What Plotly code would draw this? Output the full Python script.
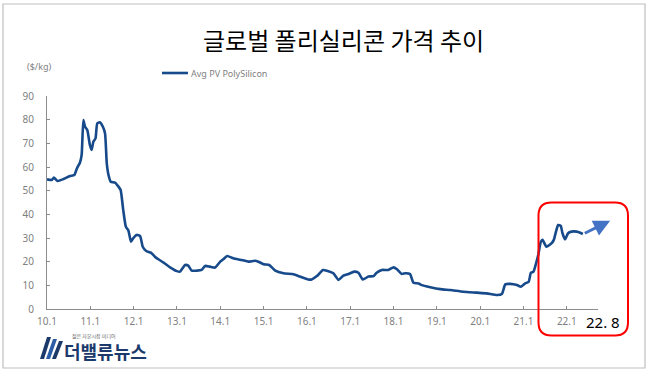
import plotly.graph_objects as go

# ---- data (decimal year, $/kg) ----
dates = [2010.00, 2010.11, 2010.16, 2010.24, 2010.38, 2010.53, 2010.63, 2010.69, 2010.76, 2010.80,
         2010.84, 2010.88, 2010.93, 2010.99, 2011.03, 2011.07, 2011.12, 2011.16, 2011.22, 2011.29,
         2011.34, 2011.38, 2011.42, 2011.47, 2011.57, 2011.65, 2011.70, 2011.76, 2011.82, 2011.88,
         2011.94, 2011.99, 2012.07, 2012.15, 2012.21, 2012.29, 2012.40, 2012.49, 2012.57, 2012.70,
         2012.85, 2013.00, 2013.07, 2013.19, 2013.26, 2013.34, 2013.46, 2013.57, 2013.65, 2013.76,
         2013.88, 2014.00, 2014.07, 2014.16, 2014.30, 2014.50, 2014.65, 2014.80, 2014.88, 2015.00,
         2015.13, 2015.27, 2015.46, 2015.69, 2015.84, 2016.03, 2016.11, 2016.23, 2016.37, 2016.46,
         2016.61, 2016.73, 2016.84, 2016.96, 2017.09, 2017.19, 2017.29, 2017.42, 2017.54, 2017.61,
         2017.73, 2017.88, 2018.00, 2018.08, 2018.19, 2018.27, 2018.38, 2018.46, 2018.58, 2018.65,
         2018.85, 2019.08, 2019.31, 2019.61, 2019.92, 2020.15, 2020.39, 2020.50, 2020.58, 2020.69,
         2020.85, 2020.94, 2021.04, 2021.12, 2021.17, 2021.23, 2021.29, 2021.34, 2021.40, 2021.44,
         2021.53, 2021.65, 2021.70, 2021.75, 2021.80, 2021.86, 2021.90, 2021.96, 2022.03, 2022.11,
         2022.23, 2022.31, 2022.37]
prices = [54.8, 54.5, 55.5, 54.1, 54.9, 56.2, 56.6, 59.4, 61.8, 65.1,
          79.8, 77.0, 75.6, 69.3, 67.2, 70.7, 72.1, 78.4, 78.9, 77.0,
          74.2, 61.5, 56.6, 53.8, 53.4, 51.7, 50.3, 41.8, 34.8, 33.1,
          28.4, 29.9, 31.3, 30.8, 26.3, 24.5, 23.8, 22.1, 21.0, 19.5,
          17.5, 16.0, 15.8, 18.6, 18.3, 16.2, 16.2, 16.5, 18.2, 17.9,
          17.5, 20.0, 21.0, 22.4, 21.4, 20.7, 20.0, 20.4, 20.0, 18.9,
          18.6, 16.2, 15.1, 14.7, 13.7, 12.5, 12.5, 13.9, 16.5, 16.2,
          15.1, 12.3, 14.1, 14.8, 15.8, 15.3, 12.5, 13.7, 13.9, 15.3,
          16.5, 16.5, 17.6, 16.8, 14.8, 15.1, 14.8, 11.1, 10.8, 10.1,
          9.2, 8.4, 8.0, 7.3, 6.9, 6.6, 5.9, 6.3, 10.4, 10.6,
          10.1, 9.4, 10.8, 11.5, 15.3, 15.8, 19.3, 22.8, 28.4, 29.2,
          26.3, 27.8, 29.2, 32.7, 35.5, 35.1, 32.0, 29.4, 32.0, 32.7,
          32.7, 32.2, 31.7]

tick_vals = list(range(2010, 2023))
tick_text = ["10.1", "11.1", "12.1", "13.1", "14.1", "15.1", "16.1", "17.1",
             "18.1", "19.1", "20.1", "21.1", "22.1"]
y_ticks = [0, 10, 20, 30, 40, 50, 60, 70, 80, 90]
series_name = "Avg PV PolySilicon"
arrow_from = (2022.38, 31.7)
arrow_to = (2023.0, 37.3)

# ---- layout geometry (pixels) ----
W, H = 650, 376
L, R, T, B = 47, 598, 96, 309


def px(x):
    return (x - L) / (R - L)


def py(y):
    return (B - y) / (B - T)


fig = go.Figure()
fig.add_trace(go.Scatter(
    x=dates, y=prices, mode="lines", name=series_name,
    line=dict(color="#174a8b", width=2.6, shape="spline", smoothing=0.5),
    showlegend=False, hoverinfo="x+y"))

shapes = []
# outer border
shapes.append(dict(type="rect", xref="paper", yref="paper",
                   x0=px(3), x1=px(645), y0=py(4), y1=py(368),
                   line=dict(color="#bfbfbf", width=1.2), layer="below"))
# legend line
shapes.append(dict(type="line", xref="paper", yref="paper",
                   x0=px(162), x1=px(188), y0=py(73), y1=py(73),
                   line=dict(color="#174a8b", width=2.6)))


# red rounded rectangle
def rounded_path(x0, y0, x1, y1, r):
    pts = [
        ("M", [(x0 + r, y0)]),
        ("L", [(x1 - r, y0)]),
        ("Q", [(x1, y0), (x1, y0 + r)]),
        ("L", [(x1, y1 - r)]),
        ("Q", [(x1, y1), (x1 - r, y1)]),
        ("L", [(x0 + r, y1)]),
        ("Q", [(x0, y1), (x0, y1 - r)]),
        ("L", [(x0, y0 + r)]),
        ("Q", [(x0, y0), (x0 + r, y0)]),
    ]
    s = ""
    for cmd, ps in pts:
        s += cmd + " " + " ".join(f"{px(a):.5f},{py(b):.5f}" for a, b in ps) + " "
    return s + "Z"


shapes.append(dict(type="path", xref="paper", yref="paper",
                   path=rounded_path(538.5, 202.5, 628, 335.5, 13),
                   line=dict(color="#ff0000", width=2)))

# logo emblem stripes
for i, (xa, xb) in enumerate([(40, 47), (46, 53), (52, 59)]):
    shapes.append(dict(type="path", xref="paper", yref="paper",
                       path=(f"M {px(xa):.5f},{py(359):.5f} L {px(xa+4):.5f},{py(359):.5f} "
                             f"L {px(xb+4):.5f},{py(337 + i*2):.5f} L {px(xb):.5f},{py(337 + i*2):.5f} Z"),
                       fillcolor=["#1b3a6b", "#2a5ea8", "#1b3a6b"][i], line=dict(width=0)))

C = dict(xanchor="center", yanchor="middle", showarrow=False)
annotations = [
    dict(text="글로벌 폴리실리콘 가격 추이", xref="paper", yref="paper",
         x=px(343), y=py(40), **C,
         font=dict(family="Noto Sans CJK KR", size=24, color="#000000")),
    dict(text="($/kg)", xref="paper", yref="paper", x=px(39), y=py(66), **C,
         font=dict(family="Noto Sans", size=9, color="#7f7f7f")),
    dict(text=series_name, xref="paper", yref="paper", x=px(189), y=py(73),
         xanchor="left", yanchor="middle", showarrow=False,
         font=dict(family="Noto Sans", size=9, color="#7f7f7f")),
    dict(text="22. 8", xref="paper", yref="paper", x=px(603), y=py(322), **C,
         font=dict(family="Noto Sans", size=15, color="#000000")),
    dict(text="", x=arrow_to[0], y=arrow_to[1], ax=arrow_from[0], ay=arrow_from[1],
         xref="x", yref="y", axref="x", ayref="y", showarrow=True,
         arrowhead=2, arrowsize=1.1, arrowwidth=3, arrowcolor="#4472c4", standoff=0),
    dict(text="<b>더밸류뉴스</b>", xref="paper", yref="paper", x=px(62), y=py(351),
         xanchor="left", yanchor="middle", showarrow=False,
         font=dict(family="Noto Sans CJK KR", size=18, color="#1b3a6b")),
    dict(text="젊은 자본시장 미디어", xref="paper", yref="paper", x=px(70), y=py(335.5),
         xanchor="left", yanchor="middle", showarrow=False,
         font=dict(family="Noto Sans CJK KR", size=5, color="#666666")),
]

fig.update_layout(
    width=W, height=H,
    margin=dict(l=L, r=W - R, t=T, b=H - B, pad=0),
    paper_bgcolor="#ffffff", plot_bgcolor="#ffffff",
    shapes=shapes, annotations=annotations,
    xaxis=dict(range=[2010, 2022.72], tickvals=tick_vals, ticktext=tick_text,
               showgrid=False, zeroline=False, showline=True, linecolor="#8c8c8c",
               linewidth=1, ticks="inside", ticklen=3, tickcolor="#8c8c8c",
               tickfont=dict(family="Noto Sans", size=10, color="#7f7f7f"),
               ticklabelstandoff=3, fixedrange=True),
    yaxis=dict(range=[0, 90], tickvals=y_ticks, showgrid=False, zeroline=False,
               showline=True, linecolor="#8c8c8c", linewidth=1, ticks="inside",
               ticklen=3, tickcolor="#8c8c8c",
               tickfont=dict(family="Noto Sans", size=10, color="#7f7f7f"),
               ticklabelstandoff=10, fixedrange=True),
)

fig.write_html("out.html", config={"displayModeBar": False},
               post_script="document.body.style.margin='0px';document.body.style.overflow='hidden';")
